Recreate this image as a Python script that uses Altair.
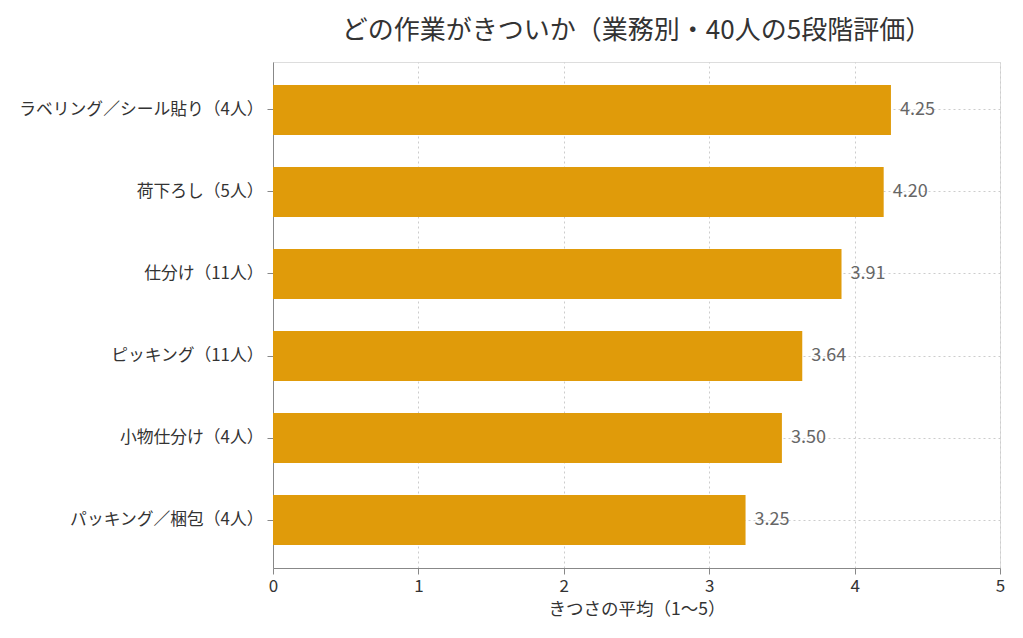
import altair as alt
import pandas as pd

categories = ["ラベリング／シール貼り（4人）", "荷下ろし（5人）", "仕分け（11人）",
              "ピッキング（11人）", "小物仕分け（4人）", "パッキング／梱包（4人）"]
values = [4.25, 4.20, 3.91, 3.64, 3.50, 3.25]

df = pd.DataFrame({"cat": categories, "val": values})
df["label"] = df["val"].map(lambda v: f"{v:.2f}")

FONT = "Noto Sans CJK JP"

y_enc = alt.Y("cat:N", sort=categories, title=None,
              scale=alt.Scale(paddingInner=0.39, paddingOuter=0.28),
              axis=alt.Axis(grid=True, bandPosition=0.5, gridDash=[2, 3], gridColor="#cccccc",
                            domainColor="#888888", tickColor="#888888", tickSize=6,
                            labelFontSize=16.8, labelColor="#333333", labelPadding=4,
                            labelFont=FONT, labelLimit=400))

x_enc = alt.X("val:Q", title="きつさの平均（1〜5）",
              scale=alt.Scale(domain=[0, 5], nice=False),
              axis=alt.Axis(values=[0, 1, 2, 3, 4, 5], format="d", grid=True,
                            gridDash=[2, 3], gridColor="#cccccc", labelFlush=False,
                            domainColor="#888888", tickColor="#888888", tickSize=6,
                            labelFontSize=17, labelColor="#333333", labelFont=FONT,
                            labelPadding=4,
                            titleFontSize=17.5, titleColor="#333333", titleFont=FONT,
                            titleFontWeight="normal", titlePadding=6))

bars = alt.Chart(df).mark_bar(color="#E09B0A").encode(x=x_enc, y=y_enc)
text = alt.Chart(df).mark_text(align="left", dx=9, fontSize=18, color="#666666",
                               font=FONT).encode(
    x=alt.X("val:Q"), y=alt.Y("cat:N", sort=categories), text="label:N")

chart = (bars + text).properties(
    width=727, height=506,
    title=alt.TitleParams("どの作業がきついか（業務別・40人の5段階評価）", fontSize=26,
                          color="#333333", font=FONT, fontWeight="normal",
                          anchor="middle", frame="group", offset=18),
    autosize=alt.AutoSizeParams(type="none"),
    padding={"left": 265, "top": 54, "right": 15, "bottom": 60},
).configure_view(stroke=None).configure(background="white")

chart.save("out.html", embed_options={"renderer": "svg", "actions": False})
